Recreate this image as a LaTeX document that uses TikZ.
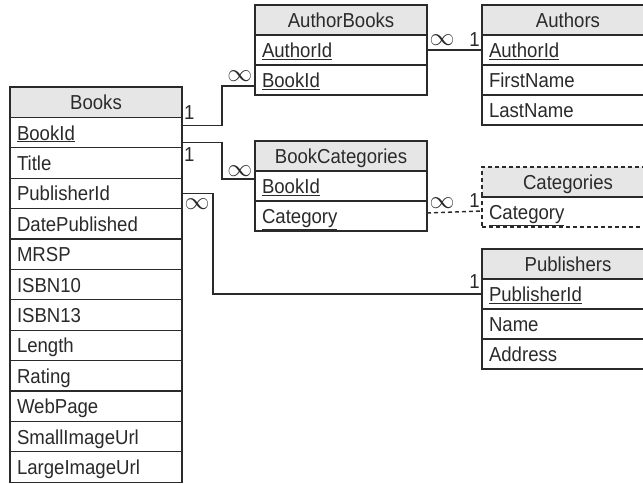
\documentclass[tikz,border=0pt]{standalone}
\usepackage{fontspec}
\setmainfont{Liberation Sans}[FakeStretch=0.92]
\usepackage{xcolor}
\usepackage{tikz}
\usetikzlibrary{positioning,calc}
\definecolor{linegray}{HTML}{2A2A2A}
\definecolor{headgray}{HTML}{E6E6E6}

\begin{document}
\begin{tikzpicture}[
  x=1pt, y=-1pt,
  node distance=0pt,
  every node/.style={font=\fontsize{20.2}{22}\selectfont, text=linegray},
  tablehead/.style={
    rectangle,
    draw=linegray,
    fill=headgray,
    line width=1.1pt,
    minimum width=172pt,
    minimum height=30pt,
    text width=158pt,
    text height=16pt,
    text depth=1pt,
    inner xsep=7pt,
    inner ysep=0pt,
    outer sep=0pt,
    align=center
  },
  tablerow/.style={tablehead, fill=white, align=left},
  broken/.style={dash pattern=on 4pt off 3pt},
  conn/.style={draw=linegray, line width=1.4pt},
  one/.style={inner xsep=1.5pt, inner ysep=5pt},
  many/.style={inner xsep=2pt, inner ysep=4pt, font=\fontsize{25}{25}\selectfont}
]
\clip (0,0) rectangle (643,484);

% Books
\begin{scope}[tablehead/.append style={minimum height=30.4pt}]
\node[tablehead, anchor=north west] (books-0) at (10,87) {Books};
\node[tablerow, below=of books-0] (books-1) {\underline{BookId}};
\node[tablerow, below=of books-1] (books-2) {Title};
\node[tablerow, below=of books-2] (books-3) {PublisherId};
\node[tablerow, below=of books-3] (books-4) {DatePublished};
\node[tablerow, below=of books-4] (books-5) {MRSP};
\node[tablerow, below=of books-5] (books-6) {ISBN10};
\node[tablerow, below=of books-6] (books-7) {ISBN13};
\node[tablerow, below=of books-7] (books-8) {Length};
\node[tablerow, below=of books-8] (books-9) {Rating};
\node[tablerow, below=of books-9] (books-10) {WebPage};
\node[tablerow, below=of books-10] (books-11) {SmallImageUrl};
\node[tablerow, below=of books-11] (books-12) {LargeImageUrl};
\end{scope}

% AuthorBooks
\node[tablehead, anchor=north west] (ab-0) at (255,5) {AuthorBooks};
\node[tablerow, below=of ab-0] (ab-1) {\underline{AuthorId}};
\node[tablerow, below=of ab-1] (ab-2) {\underline{BookId}};

% Authors
\node[tablehead, anchor=north west] (au-0) at (482,5) {Authors};
\node[tablerow, below=of au-0] (au-1) {\underline{AuthorId}};
\node[tablerow, below=of au-1] (au-2) {FirstName};
\node[tablerow, below=of au-2] (au-3) {LastName};

% BookCategories
\node[tablehead, anchor=north west] (bc-0) at (255,141) {BookCategories};
\node[tablerow, below=of bc-0] (bc-1) {\underline{BookId}};
\node[tablerow, below=of bc-1] (bc-2) {\underline{Category}};

% Categories (dashed outline)
\node[tablehead, broken, anchor=north west] (cat-0) at (482,167) {Categories};
\node[tablerow, broken, below=of cat-0] (cat-1) {\underline{Category}};
\draw[linegray, line width=1.1pt] (cat-0.south west) -- (cat-0.south east);

% Publishers
\node[tablehead, anchor=north west] (pub-0) at (482,249) {Publishers};
\node[tablerow, below=of pub-0] (pub-1) {\underline{PublisherId}};
\node[tablerow, below=of pub-1] (pub-2) {Name};
\node[tablerow, below=of pub-2] (pub-3) {Address};

% Relations
\draw[conn] ($(books-1.east)+(0,-7)$)
  -- node[one, pos=0, anchor=south west] {1} ++(40,0)
  |- node[many, pos=1, anchor=south east] {$\infty$} ($(ab-2.west)+(0,6)$);
\draw[conn] ($(books-1.east)+(0,10)$)
  -- node[one, pos=0, anchor=north west, inner ysep=4pt] {1} ++(40,0)
  |- node[many, pos=1, anchor=south east, inner ysep=2pt] {$\infty$} ($(bc-1.west)+(0,-7)$);
\draw[conn] (books-3.east)
  -- node[many, pos=0, anchor=north west, inner ysep=5pt] {$\infty$} ++(31,0)
  |- node[one, pos=1, anchor=south east] {1} (pub-1.west);
\draw[conn] (ab-1.east)
  -- node[many, pos=0, anchor=south west] {$\infty$}
     node[one, pos=1, anchor=south east, inner ysep=3pt] {1} (au-1.west);
\draw[conn, broken] ($(bc-2.east)+(0,-3)$)
  -- node[many, pos=0, anchor=south west] {$\infty$}
     node[one, pos=1, anchor=south east, inner ysep=3pt] {1} ($(cat-1.west)+(0,-1)$);

\end{tikzpicture}
\end{document}
